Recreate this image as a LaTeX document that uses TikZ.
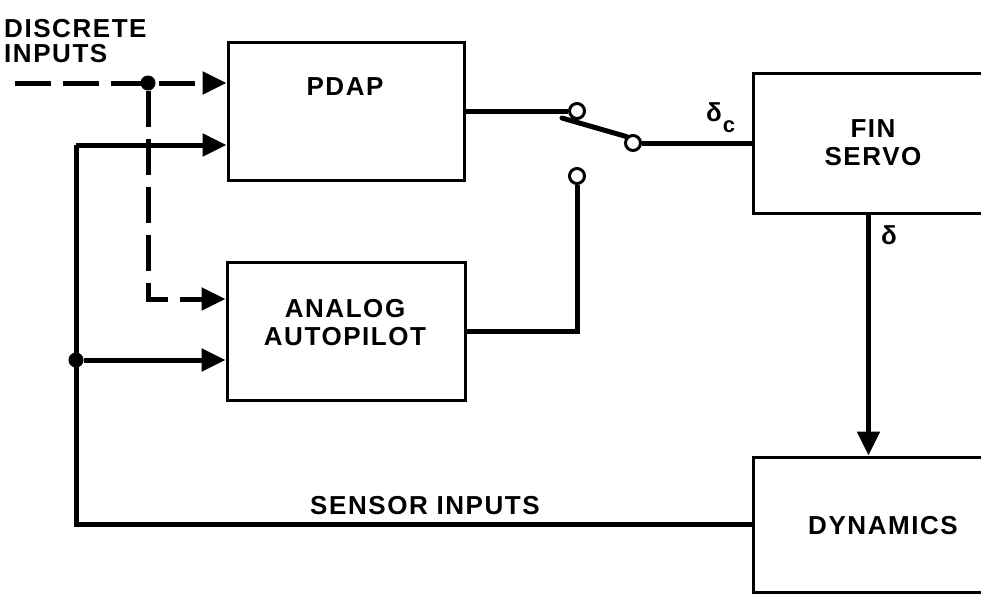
\documentclass[tikz,border=0pt]{standalone}
\usepackage{fontspec}
\setmainfont{Liberation Sans}
\usetikzlibrary{arrows.meta,calc}
\tikzset{
  blockbox/.style={draw, line width=3pt, inner sep=0pt},
  lbl/.style={inner sep=0pt, font=\bfseries\fontsize{26}{28}\selectfont\addfontfeature{LetterSpace=6}},
  sig/.style={line width=5pt},
  dsig/.style={line width=5pt, dash pattern=on 36pt off 12pt},
  tip/.style={-{Triangle[length=24pt,width=22pt]}},
  contact/.style={circle, draw, line width=3pt, fill=white, minimum size=15pt, inner sep=0pt},
  junc/.style={circle, fill=black, minimum size=15pt, inner sep=0pt},
}
\begin{document}
\begin{tikzpicture}[x=1pt,y=-1pt]
\useasboundingbox (0,0) rectangle (981,597);
\fill[white] (0,0) rectangle (981,597);

% blocks
\node[blockbox, minimum width=236pt, minimum height=138pt] (pdap) at (346,111) {};
\node[blockbox, minimum width=238pt, minimum height=138pt] (auto) at (346,331) {};
\node[blockbox, minimum width=250pt, minimum height=140pt] (fin) at (878,143) {};
\node[blockbox, minimum width=250pt, minimum height=135pt] (dyn) at (878,524.5) {};

% block texts
\node[lbl] (tpdap) at (345,87) {PDAP};
\node[lbl, align=center] (tauto) at (345,323) {ANALOG\\AUTOPILOT};
\node[lbl, align=center] (tfin) at (873,143) {FIN\\SERVO};
\node[lbl] (tdyn) at (883,526) {DYNAMICS};
\node[lbl, anchor=base west] (tdisc1) at (4,37) {DISCRETE};
\node[lbl, anchor=base west] (tdisc2) at (4,62) {INPUTS};
\node[lbl] (tsens) at (425,506) {SENSOR INPUTS};

% switch
\node[contact] (k1) at (577,111) {};
\node[contact] (k2) at (577,176) {};
\node[contact] (kp) at (633,143) {};
\coordinate (bladeend) at (562,118);

\draw[sig] (pdap.east) -- (k1.west);
\draw[sig, line cap=round] (kp.north west) -- (bladeend);
\draw[sig] (kp.east) -- (fin.west |- kp);
\draw[sig] (auto.east) -| (k2.south);

\node[lbl] (tdc) at (714,112) {δ};
\node[lbl, font=\bfseries\fontsize{22}{24}\selectfont] (tdcs) at (729,127) {c};

% fin servo to dynamics
\coordinate (fo) at ($(fin.south west)+(117,0)$);
\coordinate (di) at ($(dyn.north west)+(117,0)$);
\draw[sig, tip] (fo) -- (di);
\node[lbl] (td) at (889,235) {δ};

% discrete inputs (dashed)
\coordinate (din) at (15,83);
\node[junc] (j1) at (148,83) {};
\coordinate (dturn) at (148,299);
\draw[dsig, tip] (din) -- (pdap.west |- din);
\draw[dsig, tip] (j1) -- (dturn) -- (auto.west |- dturn);

% sensor feedback
\coordinate (fbtop) at (76,145);
\node[junc] (j2) at (76,360) {};
\draw[sig] (dyn.west) -| (fbtop);
\draw[sig, tip] (fbtop) -- (pdap.west |- fbtop);
\draw[sig, tip] (j2) -- (auto.west |- j2);
\end{tikzpicture}
\end{document}
